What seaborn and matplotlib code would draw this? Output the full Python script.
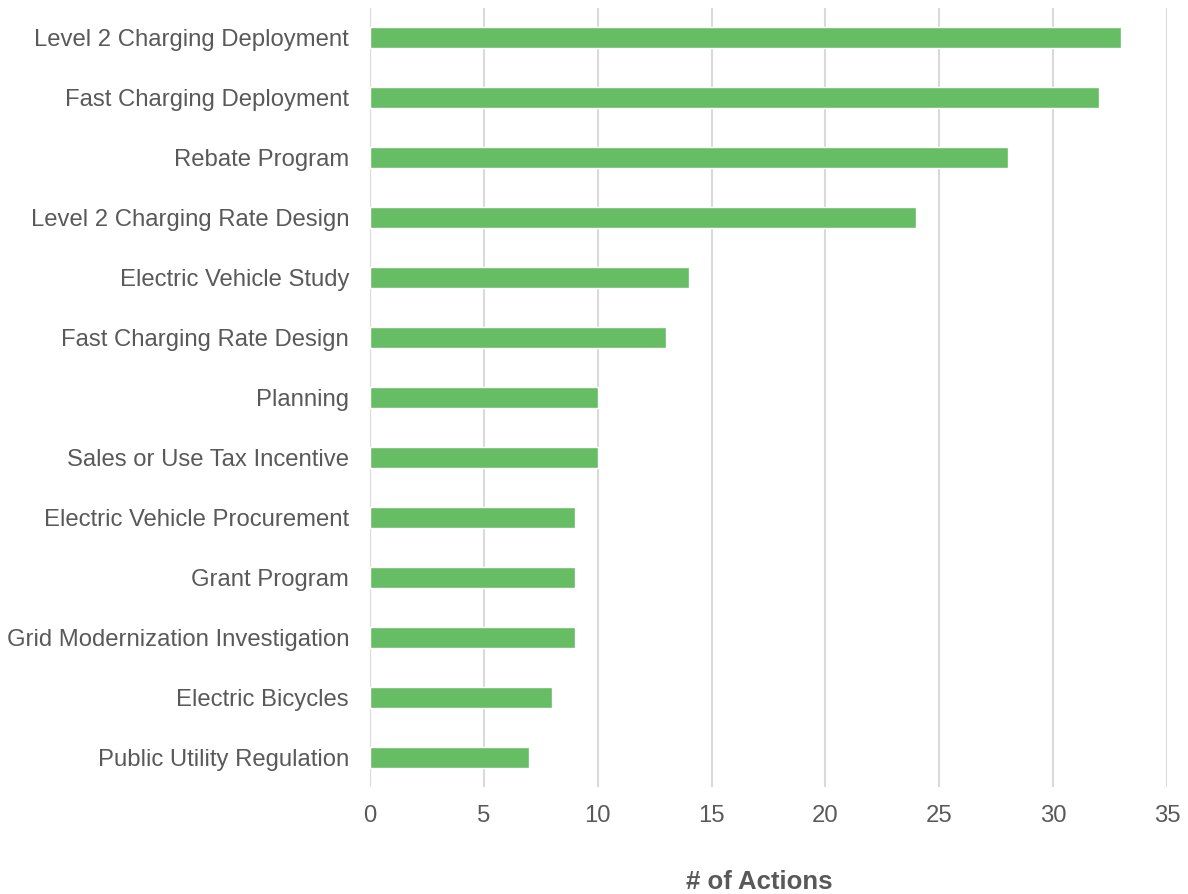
import matplotlib
matplotlib.use("Agg")
import matplotlib.pyplot as plt
import seaborn as sns
import pandas as pd

categories = [
    "Level 2 Charging Deployment",
    "Fast Charging Deployment",
    "Rebate Program",
    "Level 2 Charging Rate Design",
    "Electric Vehicle Study",
    "Fast Charging Rate Design",
    "Planning",
    "Sales or Use Tax Incentive",
    "Electric Vehicle Procurement",
    "Grant Program",
    "Grid Modernization Investigation",
    "Electric Bicycles",
    "Public Utility Regulation",
]
actions = [33, 32, 28, 24, 14, 13, 10, 10, 9, 9, 9, 8, 7]
xticks = [0, 5, 10, 15, 20, 25, 30, 35]

df = pd.DataFrame({"category": categories, "actions": actions})

sns.set_style("white")
plt.rcParams["font.family"] = ["Liberation Sans", "DejaVu Sans"]

fig = plt.figure(figsize=(11.88, 8.94), dpi=100)
ax = fig.add_axes([0.3114, 0.1197, 0.6709, 0.8714])

sns.barplot(data=df, x="actions", y="category", color="#66BD63",
            saturation=1, width=0.35, ax=ax, zorder=3)

ax.set_xlim(0, 35)
ax.set_xticks(xticks)
ax.grid(axis="x", color="#D9D9D9", linewidth=1.5, zorder=0)
ax.set_axisbelow(True)
sns.despine(ax=ax, left=True, bottom=True)

ax.tick_params(axis="both", length=0, labelsize=17.2, labelcolor="#595959")
ax.tick_params(axis="x", pad=13)
ax.tick_params(axis="y", pad=15)
ax.set_ylabel("")
ax.set_xlabel("# of Actions", fontsize=18.5, fontweight="bold",
              color="#595959", labelpad=31)
ax.xaxis.label.set_x(0.489)

fig.savefig("out.png", dpi=100)
